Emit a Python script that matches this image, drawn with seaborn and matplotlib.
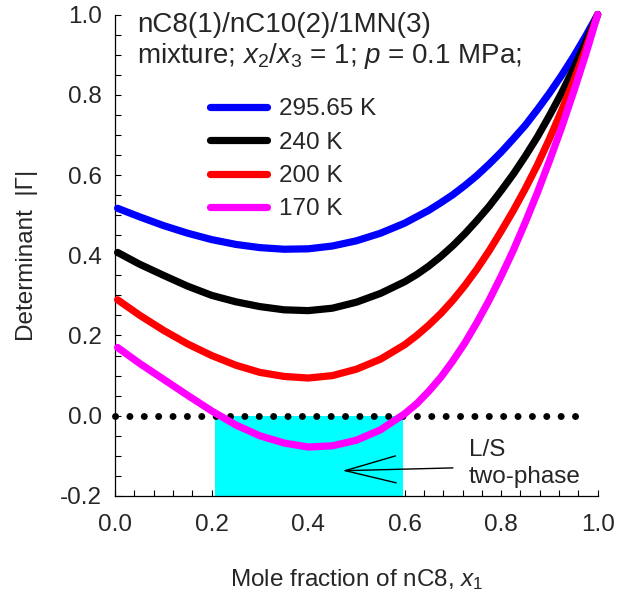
import numpy as np
import pandas as pd
import matplotlib
matplotlib.use("Agg")
import matplotlib.pyplot as plt
import seaborn as sns
from matplotlib.ticker import MultipleLocator, FormatStrFormatter

# ---- data ----
X1 = [0.005, 0.05, 0.10, 0.15, 0.20, 0.25, 0.30, 0.35, 0.40, 0.45, 0.50, 0.55,
      0.60, 0.625, 0.65, 0.675, 0.70, 0.725, 0.75, 0.775, 0.80, 0.825, 0.85,
      0.875, 0.90, 0.925, 0.95, 0.975, 1.00]
G_29565 = [0.517, 0.496, 0.474, 0.455, 0.439, 0.427, 0.419, 0.415, 0.416, 0.423, 0.436, 0.455,
           0.480, 0.496, 0.512, 0.531, 0.551, 0.574, 0.599, 0.627, 0.657, 0.690, 0.724,
           0.763, 0.804, 0.848, 0.895, 0.946, 1.000]
G_240 = [0.407, 0.378, 0.350, 0.323, 0.300, 0.284, 0.272, 0.264, 0.262, 0.268, 0.283, 0.305,
         0.334, 0.352, 0.373, 0.397, 0.424, 0.454, 0.487, 0.522, 0.561, 0.602, 0.647,
         0.695, 0.748, 0.804, 0.865, 0.930, 1.000]
G_200 = [0.289, 0.251, 0.213, 0.179, 0.150, 0.126, 0.108, 0.098, 0.094, 0.100, 0.116, 0.141,
         0.177, 0.200, 0.226, 0.255, 0.288, 0.325, 0.366, 0.411, 0.460, 0.511, 0.566,
         0.625, 0.690, 0.760, 0.834, 0.914, 1.000]
G_170 = [0.170, 0.131, 0.091, 0.051, 0.012, -0.023, -0.050, -0.068, -0.078, -0.075, -0.061, -0.035,
         0.005, 0.030, 0.061, 0.096, 0.137, 0.182, 0.233, 0.288, 0.348, 0.412, 0.482,
         0.556, 0.635, 0.718, 0.807, 0.900, 1.000]
TEMPS = ["295.65 K", "240 K", "200 K", "170 K"]
COLORS = ["#0000ff", "#000000", "#ff0000", "#ff00ff"]
TWO_PHASE_X = [0.207, 0.597]
ZERO_LINE_X = [0.0, 0.98]
ZERO_LINE_Y = [0.0, 0.0]

# ---- style ----
sns.set_theme(style="ticks")
plt.rcParams["font.family"] = ["Liberation Sans", "DejaVu Sans"]
plt.rcParams["mathtext.fontset"] = "custom"
plt.rcParams["mathtext.rm"] = "Liberation Sans"
plt.rcParams["mathtext.it"] = "Liberation Sans:italic"
plt.rcParams["axes.unicode_minus"] = False

FS = 17.5
fig = plt.figure(figsize=(6.17, 5.97), dpi=100)
ax = fig.add_axes([0.1867, 0.1692, 0.7820, 0.8065])

df = pd.concat([pd.DataFrame({"x": X1, "g": vals, "T": t})
                for vals, t in zip([G_29565, G_240, G_200, G_170], TEMPS)],
               ignore_index=True)

# two-phase region
ax.fill_between(TWO_PHASE_X, -0.2, 0.0, color="#00ffff", lw=0, zorder=1)

sns.lineplot(data=df, x="x", y="g", hue="T", hue_order=TEMPS, palette=COLORS,
             lw=5.2, legend=False, ax=ax, estimator=None, sort=True, zorder=3)
curve_lines = list(ax.lines)
for ln in curve_lines:
    ln.set_clip_on(False)
    ln.set_solid_capstyle("round")
    ln.set_solid_joinstyle("round")

# dotted zero line
ax.plot(ZERO_LINE_X, ZERO_LINE_Y, color="black", lw=5.0,
        linestyle=(0, (0.01, 2.06)), dash_capstyle="round", zorder=2.5, clip_on=False)

ax.set_xlim(0, 1.0)
ax.set_ylim(-0.2, 1.0)
ax.xaxis.set_major_locator(MultipleLocator(0.2))
ax.xaxis.set_minor_locator(MultipleLocator(0.04))
ax.yaxis.set_major_locator(MultipleLocator(0.2))
ax.yaxis.set_minor_locator(MultipleLocator(0.05))
ax.xaxis.set_major_formatter(FormatStrFormatter("%.1f"))
ax.yaxis.set_major_formatter(FormatStrFormatter("%.1f"))
ax.tick_params(which="both", direction="in", length=4.3, width=0.8, color="black")
ax.tick_params(axis="x", which="major", labelsize=FS, pad=12.9)
ax.tick_params(axis="y", which="major", labelsize=FS, pad=9.5)
sns.despine(ax=ax)
for s in ["left", "bottom"]:
    ax.spines[s].set_linewidth(0.9)
    ax.spines[s].set_color("black")

ax.set_xlabel("Mole fraction of nC8, $x_1$", fontsize=FS)
ax.set_ylabel("Determinant  |\u0393|", fontsize=FS)
ax.xaxis.set_label_coords(0.5, -0.148)
ax.yaxis.set_label_coords(-0.16, 0.5)

ax.text(0.045, 0.978, "nC8(1)/nC10(2)/1MN(3)", transform=ax.transAxes,
        fontsize=20, ha="left", va="center")
ax.text(0.045, 0.914, "mixture; $x_2$/$x_3$ = 1; $p$ = 0.1 MPa;", transform=ax.transAxes,
        fontsize=20, ha="left", va="center")

ax.legend(curve_lines, TEMPS, loc="center left", bbox_to_anchor=(0.196, 0.699),
          frameon=False, fontsize=FS, handlelength=2.35, handletextpad=0.5,
          labelspacing=0.465, borderpad=0, borderaxespad=0)

# annotation
ax.text(0.733, -0.086, "L/S", fontsize=FS, ha="left", va="center")
ax.text(0.733, -0.152, "two-phase", fontsize=FS, ha="left", va="center")
ax.annotate("", xy=(0.471, -0.137), xytext=(0.700, -0.130),
            arrowprops=dict(arrowstyle="->,head_length=3.65,head_width=0.97",
                            lw=1.0, color="black", shrinkA=0, shrinkB=0,
                            mutation_scale=10), zorder=5)

fig.savefig("out.png", dpi=100)
